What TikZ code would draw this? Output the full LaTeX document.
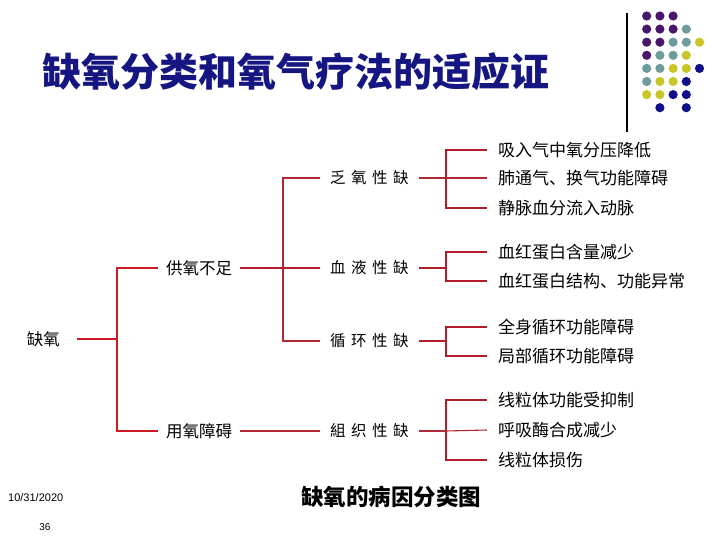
\documentclass[tikz,border=0pt]{standalone}
\usepackage{fontspec}
\setmainfont{Noto Sans CJK SC}
\newfontfamily\datefont{Liberation Sans}
\usetikzlibrary{positioning, calc}

\definecolor{titleblue}{RGB}{22,22,130}
\definecolor{rootred}{RGB}{205,25,35}
\definecolor{linkred}{RGB}{175,30,42}
\definecolor{darkred}{RGB}{175,40,50}
\definecolor{dotpu}{RGB}{72,22,106}
\definecolor{dotte}{RGB}{110,156,158}
\definecolor{dotye}{RGB}{200,198,40}
\definecolor{dotna}{RGB}{16,16,138}

\newcommand{\wide}{\hspace{5.5pt}}

\begin{document}
\begin{tikzpicture}[
  x=1pt, y=-1pt,
  link/.style     = {draw=linkred, line width=1.8pt},
  rootlink/.style = {draw=rootred, line width=1.8pt},
  thinlink/.style = {draw=darkred, line width=1.1pt},
  label/.style    = {inner ysep=0pt, inner xsep=8pt, anchor=west,
                     font=\fontsize{16.5}{16.5}\selectfont},
  sort/.style     = {inner ysep=0pt, inner xsep=10pt, anchor=west,
                     font=\fontsize{15.5}{15.5}\selectfont},
  leaf/.style     = {inner ysep=0pt, inner xsep=11pt, anchor=west,
                     font=\fontsize{17}{17}\selectfont},
]
  \useasboundingbox (0,0) rectangle (720,540);

  % ── corner decoration ─────────────────────────────────────────────────
  \draw[line width=1.2pt] (627,13) -- (627,132);
  \foreach \r/\row in {0/{pu,pu,pu}, 1/{pu,pu,pu,te}, 2/{pu,pu,te,te,ye},
                       3/{pu,te,te,ye}, 4/{te,te,ye,ye,na}, 5/{te,ye,ye,na},
                       6/{ye,ye,na,na}}
    \foreach \c [count=\i from 0] in \row
      \fill[dot\c] (646.7+13.2*\i, 16+13.1*\r) circle (4.6);
  \fill[dotna] (659.9,107.7) circle (4.6);
  \fill[dotna] (686.3,107.7) circle (4.6);

  % ── title ─────────────────────────────────────────────────────────────
  \node[font=\fontsize{39}{39}\selectfont\bfseries, text=titleblue] (title)
        at (296,72) {缺氧分类和氧气疗法的适应证};

  % ── tree of causes ────────────────────────────────────────────────────
  \node[label, inner xsep=17pt, anchor=east] (root) at (77,339) {缺氧};
  \node[label] (supply) at (158,268) {供氧不足};
  \node[label] (usage)  at (158,431) {用氧障碍};

  \node[sort] (hyp)   at (320,178) {乏\wide 氧\wide 性\wide 缺};
  \node[sort] (blood) at (320,268) {血\wide 液\wide 性\wide 缺};
  \node[sort] (circ)  at (320,341) {循\wide 环\wide 性\wide 缺};
  \node[sort] (tiss)  at (320,431) {組\wide 织\wide 性\wide 缺};

  \node[leaf] (h1) at (487,150) {吸入气中氧分压降低};
  \node[leaf] (h2) at (487,178) {肺通气、换气功能障碍};
  \node[leaf] (h3) at (487,208) {静脉血分流入动脉};
  \node[leaf] (b1) at (487,252) {血红蛋白含量减少};
  \node[leaf] (b2) at (487,281) {血红蛋白结构、功能异常};
  \node[leaf] (c1) at (487,327) {全身循环功能障碍};
  \node[leaf] (c2) at (487,356) {局部循环功能障碍};
  \node[leaf] (t1) at (487,400) {线粒体功能受抑制};
  \node[leaf] (t2) at (487,430) {呼吸酶合成减少};
  \node[leaf] (t3) at (487,460) {线粒体损伤};

  \coordinate (j0) at (117,339);
  \coordinate (j1) at (283,268);
  \coordinate (jh) at (446,178);
  \coordinate (jb) at (446,268);
  \coordinate (jc) at (446,341);
  \coordinate (jt) at (446,431);

  \draw[rootlink] (root.east) -- (j0);
  \draw[rootlink] (supply.west) -| (j0) |- (usage.west);
  \draw[link] (supply.east) -- (j1);
  \draw[thinlink] (hyp.west) -| (j1) |- (circ.west);
  \draw[link] (j1) -- (blood.west);
  \draw[thinlink] (usage.east) -- (tiss.west);

  \draw[thinlink] (hyp.east) -- (jh);
  \draw[link] (h1.west) -| (jh) |- (h3.west);
  \draw[thinlink] (jh) -- (h2.west);

  \draw[link] (blood.east) -- (jb);
  \draw[link] (b1.west) -| (jb) |- (b2.west);

  \draw[link] (circ.east) -- (jc);
  \draw[link] (c1.west) -| (jc) |- (c2.west);

  \draw[thinlink] (tiss.east) -- (jt);
  \draw[link] (t1.west) -| (jt) |- (t3.west);
  \draw[thinlink] (jt) -- (t2.west);

  % ── footer ────────────────────────────────────────────────────────────
  \node[font=\fontsize{22.5}{22.5}\selectfont\bfseries] (caption) at (391,497)
        {缺氧的病因分类图};
  \node[font=\datefont\fontsize{11}{11}\selectfont, anchor=west, inner sep=0pt]
        (date) at (8,498) {10/31/2020};
  \node[font=\datefont\fontsize{10}{10}\selectfont, inner sep=0pt]
        (page) at (45,527) {36};

\end{tikzpicture}
\end{document}
